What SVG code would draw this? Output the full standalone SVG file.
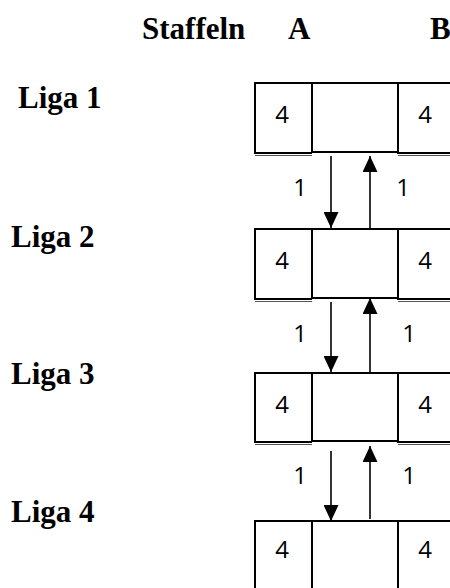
<svg xmlns="http://www.w3.org/2000/svg" width="450" height="588" viewBox="0 0 450 588">
<style>
.h{font-family:"Liberation Serif","Times New Roman",serif;font-weight:bold;font-size:31px;fill:#000}
.n{font-family:"Open Sans","Liberation Sans",sans-serif;font-size:24px;fill:#000;text-anchor:middle}
.b{fill:none;stroke:#000;stroke-width:2}
.d{fill:none;stroke:#555;stroke-width:1}
.c{stroke:#000;stroke-width:1.6;fill:none}
</style>
<defs>
<marker id="ah" viewBox="0 0 16 15" refX="16" refY="7.5" markerWidth="16" markerHeight="15" markerUnits="userSpaceOnUse" orient="auto">
<path d="M0,0 L16,7.5 L0,15 Z" fill="#000"/>
</marker>
</defs>
<g id="header">
<text class="h" x="142" y="39">Staffeln</text>
<text class="h" x="288" y="39">A</text>
<text class="h" x="430" y="39">B</text>
</g>
<g id="liga1">
<text class="h" x="18" y="108">Liga 1</text>
<path class="b" d="M255,154 V83 H452 M312,83 V152 M398,83 V154 M312,152 H398"/>
<path class="b" d="M255,153 H312 M398,153 H452"/>
<path class="d" d="M255,155.5 H312 M398,155.5 H452"/>
<text class="n" x="282" y="123">4</text>
<text class="n" x="425" y="123">4</text>
</g>
<g id="liga2">
<text class="h" x="11" y="247">Liga 2</text>
<path class="b" d="M255,300 V229 H452 M312,229 V298 M398,229 V300 M312,298 H398"/>
<path class="b" d="M255,299 H312 M398,299 H452"/>
<path class="d" d="M255,301.5 H312 M398,301.5 H452"/>
<text class="n" x="282" y="269">4</text>
<text class="n" x="425" y="269">4</text>
</g>
<g id="liga3">
<text class="h" x="11" y="384">Liga 3</text>
<path class="b" d="M255,443 V373 H452 M312,373 V441 M398,373 V443 M312,441 H398"/>
<path class="b" d="M255,442 H312 M398,442 H452"/>
<path class="d" d="M255,444.5 H312 M398,444.5 H452"/>
<text class="n" x="282" y="413">4</text>
<text class="n" x="425" y="413">4</text>
</g>
<g id="liga4">
<text class="h" x="11" y="522">Liga 4</text>
<path class="b" d="M255,590 V521 H452 M312,521 V590 M398,521 V590"/>
<text class="n" x="282" y="558">4</text>
<text class="n" x="425" y="558">4</text>
</g>
<g id="connectors">
<line class="c" x1="331" y1="156" x2="331" y2="228" marker-end="url(#ah)"/>
<line class="c" x1="370" y1="228" x2="370" y2="156" marker-end="url(#ah)"/>
<line class="c" x1="331" y1="302" x2="331" y2="372" marker-end="url(#ah)"/>
<line class="c" x1="370" y1="372" x2="370" y2="298" marker-end="url(#ah)"/>
<line class="c" x1="331" y1="451" x2="331" y2="521" marker-end="url(#ah)"/>
<line class="c" x1="370" y1="519" x2="370" y2="446" marker-end="url(#ah)"/>
<text class="n" x="300" y="196">1</text>
<text class="n" x="403" y="196">1</text>
<text class="n" x="300" y="342">1</text>
<text class="n" x="409" y="342">1</text>
<text class="n" x="300" y="484">1</text>
<text class="n" x="409" y="484">1</text>
</g>
</svg>
